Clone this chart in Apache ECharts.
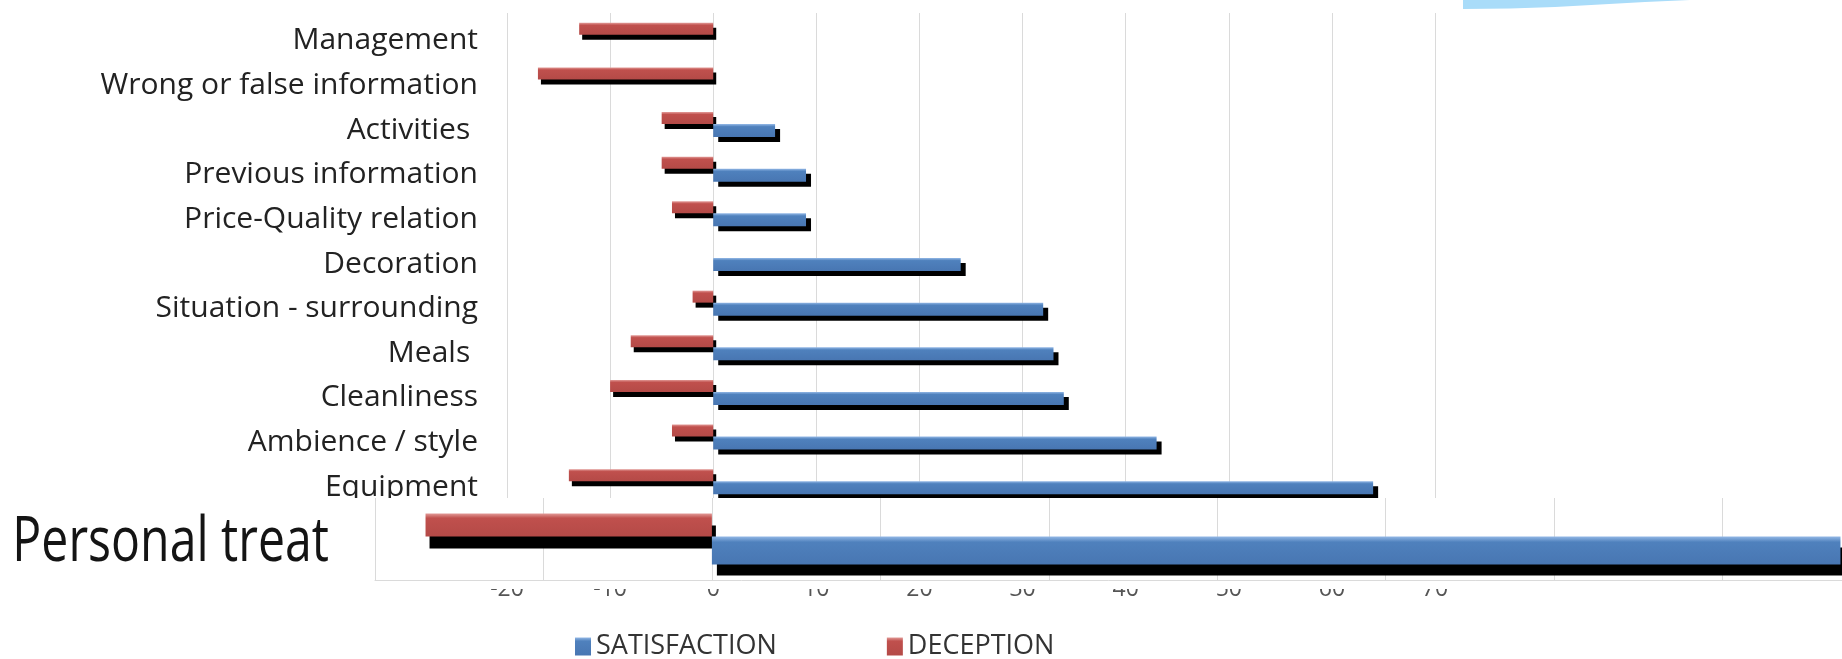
<!DOCTYPE html>
<html>
<head>
<meta charset="utf-8">
<script src="https://cdn.jsdelivr.net/npm/echarts@6/dist/echarts.min.js"></script>
<style>
  html, body { margin: 0; padding: 0; background: #ffffff; }
  #chart { width: 1842px; height: 659px; }
</style>
</head>
<body>
<div id="chart"></div>
<script>
// Hotel attributes: satisfaction vs deception (% of mentions)
const categories = [
  'Management', 'Wrong or false information', 'Activities ', 'Previous information',
  'Price-Quality relation', 'Decoration', 'Situation - surrounding', 'Meals ',
  'Cleanliness', 'Ambience / style', 'Equipment'
];
const satisfaction = [null, null, 6, 9, 9, 24, 32, 33, 34, 43, 64];
const deception = [-13, -17, -5, -5, -4, null, -2, -8, -10, -4, -14];

// Enlarged panel for the leading attribute
const focusCategory = ['Personal treat'];
const focusSatisfaction = [67];
const focusDeception = [-17];

// Value axis ticks
const valueTicks = [-20, -10, 0, 10, 20, 30, 40, 50, 60, 70];

const seriesNames = ['SATISFACTION', 'DECEPTION'];

const chart = echarts.init(document.getElementById('chart'), null, { renderer: 'canvas' });

const blueFill = new echarts.graphic.LinearGradient(0, 0, 0, 1, [
  { offset: 0, color: '#93b8e6' },
  { offset: 0.2, color: '#4f81bd' },
  { offset: 1, color: '#4876b2' }
]);
const redFill = new echarts.graphic.LinearGradient(0, 0, 0, 1, [
  { offset: 0, color: '#e29a97' },
  { offset: 0.2, color: '#c0504d' },
  { offset: 1, color: '#b44a47' }
]);

const tickMin = valueTicks[0];
const tickMax = valueTicks[valueTicks.length - 1];
const tickStep = valueTicks[1] - valueTicks[0];
const gridColor = '#dadada';
const fontMain = '"Open Sans", sans-serif';

const option = {
  backgroundColor: '#ffffff',
  animation: false,
  textStyle: { fontFamily: fontMain },
  legend: {
    data: seriesNames,
    selectedMode: false,
    left: 575,
    top: 633,
    padding: 0,
    icon: 'rect',
    itemWidth: 16,
    itemHeight: 18,
    itemGap: 110,
    zlevel: 1,
    z: 20,
    textStyle: { fontFamily: fontMain, fontSize: 27, color: '#333333' }
  },
  graphic: {
    elements: [
      {
        // white panel holding the enlarged row
        type: 'rect', zlevel: 1, z: 0, silent: true,
        shape: { x: 0, y: 498, width: 1842, height: 91 },
        style: { fill: '#ffffff' }
      },
      {
        // label of the enlarged row, set condensed
        type: 'text', zlevel: 1, z: 5, silent: true,
        x: 329, y: 543, scaleX: 0.765,
        style: {
          text: focusCategory[0], align: 'right', verticalAlign: 'middle',
          fontSize: 63, fontFamily: fontMain, fill: '#141414'
        }
      },
      {
        type: 'polygon', zlevel: 1, z: 0, silent: true,
        shape: { points: [[1463, 0], [1463, 9], [1510, 8.5], [1555, 7], [1600, 4.6], [1645, 2], [1690, 0]] },
        style: { fill: '#a9dcf9' }
      }
    ]
  },
  grid: [
    { left: 507, right: 407, top: 13, height: 491, outerBoundsMode: 'none', containLabel: false },
    { left: 375, right: -49, top: 498, height: 82, outerBoundsMode: 'none', containLabel: false }
  ],
  xAxis: [
    {
      gridIndex: 0, type: 'value', min: tickMin, max: tickMax, interval: tickStep,
      axisLine: { show: false }, axisTick: { show: false },
      splitLine: { show: true, lineStyle: { color: gridColor, width: 1 } },
      axisLabel: { margin: 74, fontSize: 23, color: '#555555', fontFamily: fontMain }
    },
    {
      gridIndex: 1, type: 'value', min: tickMin, max: tickMax, interval: tickStep,
      zlevel: 1, z: 1,
      axisLine: { show: true, onZero: false, lineStyle: { color: gridColor, width: 1 } },
      axisTick: { show: false },
      axisLabel: { show: false },
      splitLine: { show: true, lineStyle: { color: gridColor, width: 1 } }
    }
  ],
  yAxis: [
    {
      gridIndex: 0, type: 'category', data: categories, inverse: true,
      axisLine: { show: false }, axisTick: { show: false }, splitLine: { show: false },
      axisLabel: {
        margin: 29,
        formatter: '{c|{value}}',
        rich: { c: { fontSize: 30, color: '#222222', fontFamily: fontMain, padding: [11, 0, 0, 0] } }
      }
    },
    {
      gridIndex: 1, type: 'category', data: focusCategory, inverse: true,
      zlevel: 1, z: 1,
      axisLine: { show: false }, axisTick: { show: false }, splitLine: { show: false },
      axisLabel: { show: false }
    }
  ],
  series: [
    {
      name: 'DECEPTION', type: 'bar', xAxisIndex: 0, yAxisIndex: 0, z: 2,
      data: deception, barWidth: 12, barGap: '0%',
      itemStyle: { color: redFill, shadowColor: '#000000', shadowBlur: 0, shadowOffsetX: 3, shadowOffsetY: 5 }
    },
    {
      name: 'SATISFACTION', type: 'bar', xAxisIndex: 0, yAxisIndex: 0, z: 3,
      data: satisfaction, barWidth: 13, barGap: '0%',
      itemStyle: { color: blueFill, shadowColor: '#000000', shadowBlur: 0, shadowOffsetX: 5, shadowOffsetY: 5 }
    },
    {
      name: 'DECEPTION', type: 'bar', xAxisIndex: 1, yAxisIndex: 1, zlevel: 1, z: 2,
      data: focusDeception, barWidth: 23, barGap: '0%',
      itemStyle: { color: redFill, shadowColor: '#000000', shadowBlur: 0, shadowOffsetX: 4, shadowOffsetY: 12 }
    },
    {
      name: 'SATISFACTION', type: 'bar', xAxisIndex: 1, yAxisIndex: 1, zlevel: 1, z: 3,
      data: focusSatisfaction, barWidth: 28, barGap: '0%',
      itemStyle: { color: blueFill, shadowColor: '#000000', shadowBlur: 0, shadowOffsetX: 5, shadowOffsetY: 11 }
    }
  ]
};

chart.setOption(option);
</script>
</body>
</html>
